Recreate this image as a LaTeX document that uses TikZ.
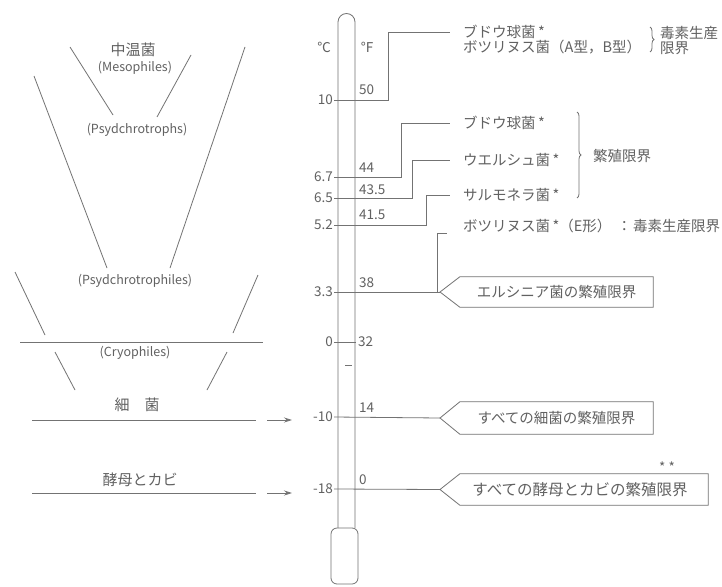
\documentclass[tikz,border=0pt]{standalone}
\usepackage{fontspec}
\setmainfont{Noto Sans CJK JP}
\usetikzlibrary{decorations.pathreplacing,arrows.meta}
\definecolor{ink}{gray}{0.45}
\definecolor{txt}{gray}{0.38}
\begin{document}
\begin{tikzpicture}[x=1pt,y=-1pt,
  line/.style={draw=ink, line width=0.8pt},
  num/.style={text=txt, font=\fontsize{13.5}{15}\selectfont, inner sep=0pt},
  cnum/.style={num, anchor=east},
  fnum/.style={num, anchor=west},
  lat/.style={text=txt, font=\fontsize{12.5}{14}\selectfont, inner sep=0pt},
  jpl/.style={text=txt, font=\fontsize{15}{17}\selectfont, inner sep=0pt},
  jp/.style={text=txt, font=\fontsize{14.5}{16}\selectfont, inner sep=0pt},
  jpw/.style={jp, anchor=west},
  flag/.style={text=txt, font=\fontsize{14.5}{16}\selectfont, inner sep=0pt},
  tip/.style={-{Stealth[length=8pt,width=5pt]}},
  brace/.style={draw=ink, line width=0.8pt, decorate, decoration={brace, amplitude=4pt}},
]
\useasboundingbox (0,0) rectangle (722,586);
\fill[white] (0,0) rectangle (722,586);

% ---------------- left-hand classification ----------------
\node[jpl] (meso)  at (133,50)  {中温菌};
\node[lat] (mesoe) at (135,68)  {(Mesophiles)};
\node[lat] (psyt)  at (137,130) {(Psydchrotrophs)};
\node[lat] (psyl)  at (135,281) {(Psydchrotrophiles)};
\node[lat] (cryo)  at (135,353) {(Cryophiles)};
\node[jpl] (bact)  at (137,405) {細\hspace{1em}菌};
\node[jpl] (yeast) at (140,480) {酵母とカビ};

\draw[line] (70,47) -- (113,115);
\draw[line] (191,55) -- (157,117);
\draw[line] (34,76) -- (107,268);
\draw[line] (245,47) -- (170,268);
\draw[line] (15,272) -- (45,335);
\draw[line] (258,275) -- (233,333);
\draw[line] (20,342) -- (263,342);
\draw[line] (55,352) -- (75,390);
\draw[line] (227,352) -- (207,390);

\coordinate (ba0) at (32,420);
\coordinate (ba1) at (256,420);
\coordinate (ba2) at (267,420);
\coordinate (ba3) at (292,420);
\draw[line] (ba0) -- (ba1);
\draw[line,tip] (ba2) -- (ba3);
\coordinate (ye0) at (32,493);
\coordinate (ye1) at (256,493);
\coordinate (ye2) at (267,493);
\coordinate (ye3) at (292,493);
\draw[line] (ye0) -- (ye1);
\draw[line,tip] (ye2) -- (ye3);

% ---------------- thermometer ----------------
\draw[line] (338,528) -- (338,22) arc[start angle=180, end angle=360, radius=8.5] -- (355,528);
\draw[line, rounded corners=6pt] (331,528) rectangle (358,584);
\draw[line] (345,365) -- (352,365);

\node[num] (degc) at (324,47) {℃};
\node[num] (degf) at (367,47) {℉};

\node[cnum] at (333,100) {10};
\node[cnum] at (333,177) {6.7};
\node[cnum] at (333,198) {6.5};
\node[cnum] at (333,225) {5.2};
\node[cnum] at (333,292) {3.3};
\node[cnum] at (333,342) {0};
\node[cnum] at (333,417) {-10};
\node[cnum] at (333,489) {-18};

\node[fnum] at (359,90)  {50};
\node[fnum] at (359,168) {44};
\node[fnum] at (359,190) {43.5};
\node[fnum] at (359,215) {41.5};
\node[fnum] at (359,283) {38};
\node[fnum] at (358,342) {32};
\node[fnum] at (359,408) {14};
\node[fnum] at (359,480) {0};

\coordinate (t10) at (334,100);
\coordinate (t67) at (334,177);
\coordinate (t65) at (334,198);
\coordinate (t52) at (334,225);
\coordinate (t33) at (334,292);
\coordinate (t0a) at (334,342);
\coordinate (t0b) at (356,342);
\coordinate (tm10) at (334,417);
\coordinate (tm18) at (334,489);

% ---------------- right-hand texts ----------------
\node[jpw] (s1) at (463,32) {ブドウ球菌\,*};
\node[jpw] (b1) at (463,47) {ボツリヌス菌（A型，B型）};
\node[jpw] (tox1) at (660,33) {毒素生産};
\node[jpw] (tox2) at (660,48) {限界};
\draw[brace] (650,27) -- (650,52);

\node[jpw] (s2) at (463,123) {ブドウ球菌\,*};
\node[jpw] (w1) at (463,160) {ウエルシュ菌\,*};
\node[jpw] (sa) at (463,195) {サルモネラ菌\,*};
\node[jpw] (gr) at (593,156) {繁殖限界};
\draw[brace] (577,112) -- (577,198);

\node[jpw] (b2) at (463,226) {ボツリヌス菌\,*（E形）};
\node[jpw] (b2c) at (617,226) {：};
\node[jpw] (b2t) at (633,226) {毒素生産限界};

% connectors from the scale
\coordinate (e1) at (450,32);
\coordinate (e2) at (450,123);
\coordinate (e3) at (450,160);
\coordinate (e4) at (450,195);
\coordinate (e5) at (447,233);
\draw[line] (t10) -- (388,100) -- (388,32) -- (e1);
\draw[line] (t67) -- (401,177) -- (401,123) -- (e2);
\draw[line] (t65) -- (412,198) -- (412,160) -- (e3);
\draw[line] (t52) -- (426,225) -- (426,195) -- (e4);
\draw[line] (437,292) -- (437,233) -- (e5);
\draw[line] (t0a) -- (t0b);

% ---------------- flags ----------------
\node[flag, minimum width=193pt, minimum height=30pt] (f1) at (556.5,292) {エルシニア菌の繁殖限界};
\coordinate (p1) at (440,292);
\draw[line] (f1.north east) -- (f1.north west) -- (p1) -- (f1.south west) -- (f1.south east) -- cycle;
\draw[line] (t33) -- (p1);

\node[flag, minimum width=193pt, minimum height=32pt] (f2) at (556.5,418) {すべての細菌の繁殖限界};
\coordinate (p2) at (440,418);
\draw[line] (f2.north east) -- (f2.north west) -- (p2) -- (f2.south west) -- (f2.south east) -- cycle;
\draw[line] (tm10) -- (p2);

\node[flag, font=\fontsize{15.5}{17}\selectfont, minimum width=248pt, minimum height=31pt] (f3) at (584,489.5) {\hspace*{-8pt}すべての酵母とカビの繁殖限界};
\coordinate (p3) at (440,489.5);
\draw[line] (f3.north east) -- (f3.north west) -- (p3) -- (f3.south west) -- (f3.south east) -- cycle;
\draw[line] (tm18) -- (p3);
\node[num] (ast) at (667,467) {* *};
\end{tikzpicture}
\end{document}
